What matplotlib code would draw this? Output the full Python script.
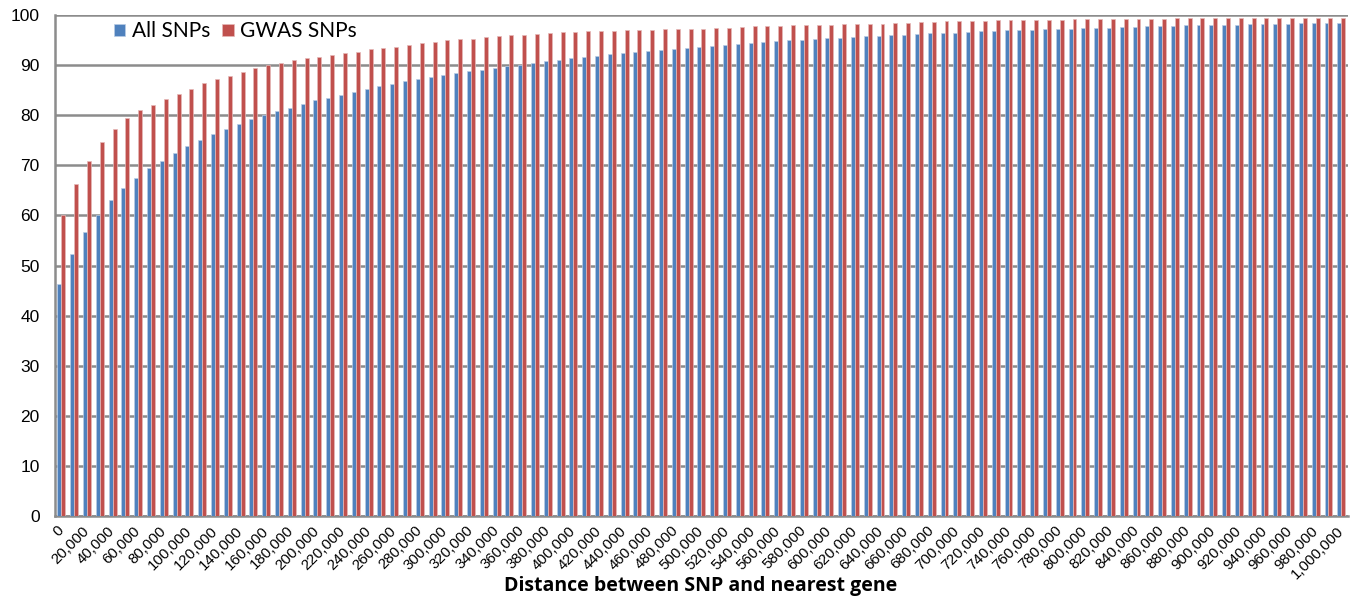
import numpy as np
import matplotlib
matplotlib.use("Agg")
import matplotlib.pyplot as plt

# -------------------
# Data
# -------------------

distances = list(range(0, 1000001, 10000))

all_snps = [46.4, 52.3, 56.7, 60.1, 63.0, 65.4, 67.4, 69.4, 70.9, 72.4,
            73.9, 75.1, 76.2, 77.3, 78.3, 79.2, 80.1, 80.9, 81.5, 82.3,
            83.0, 83.5, 84.1, 84.7, 85.2, 85.8, 86.2, 86.8, 87.2, 87.7,
            88.0, 88.5, 88.8, 89.1, 89.5, 89.9, 90.1, 90.5, 90.8, 91.1,
            91.4, 91.6, 91.9, 92.2, 92.4, 92.7, 92.9, 93.1, 93.3, 93.5,
            93.7, 93.9, 94.1, 94.3, 94.5, 94.6, 94.8, 95.0, 95.1, 95.2,
            95.4, 95.5, 95.7, 95.8, 95.9, 96.0, 96.1, 96.3, 96.5, 96.5,
            96.5, 96.7, 96.8, 96.9, 97.0, 97.0, 97.1, 97.2, 97.3, 97.3,
            97.5, 97.5, 97.5, 97.7, 97.7, 97.8, 97.8, 97.9, 98.0, 98.0,
            98.1, 98.1, 98.1, 98.2, 98.2, 98.3, 98.3, 98.5, 98.5, 98.5,
            98.5]

gwas_snps = [60.0, 66.2, 70.8, 74.6, 77.3, 79.4, 81.0, 82.0, 83.3, 84.2,
             85.3, 86.4, 87.2, 87.8, 88.7, 89.4, 90.0, 90.4, 91.0, 91.4,
             91.7, 92.0, 92.5, 92.7, 93.2, 93.5, 93.7, 94.1, 94.5, 94.6,
             95.0, 95.2, 95.3, 95.7, 95.8, 96.0, 96.0, 96.2, 96.5, 96.7,
             96.7, 96.8, 96.9, 96.9, 97.0, 97.1, 97.1, 97.2, 97.3, 97.3,
             97.3, 97.5, 97.5, 97.7, 97.8, 97.8, 97.9, 98.0, 98.0, 98.1,
             98.1, 98.2, 98.3, 98.3, 98.3, 98.5, 98.5, 98.7, 98.7, 98.8,
             98.8, 98.8, 98.8, 99.0, 99.0, 99.0, 99.0, 99.1, 99.1, 99.2,
             99.2, 99.3, 99.3, 99.3, 99.3, 99.3, 99.3, 99.5, 99.5, 99.5,
             99.5, 99.5, 99.5, 99.5, 99.5, 99.5, 99.5, 99.5, 99.5, 99.5,
             99.5]

tick_labels = ["{:,}".format(d) for d in distances[::2]]

BLUE = "#4F81BD"
RED = "#C0504D"
GRID = "#8C8C8C"

# -------------
# Drawing chart
# -------------

fig = plt.figure(figsize=(13.55, 5.96), dpi=100)
ax = fig.add_axes([0.0406, 0.1342, 0.954, 0.8406])

x = np.arange(len(distances))
w = 0.31
ax.bar(x - w / 2, all_snps, w, color=BLUE, edgecolor="#B9CDE5",
       linewidth=0.5, label="All SNPs", zorder=3)
ax.bar(x + w / 2, gwas_snps, w, color=RED, edgecolor="#E6B9B8",
       linewidth=0.5, label="GWAS SNPs", zorder=3)

ax.set_xlim(-0.5, len(distances) - 0.5)
ax.set_ylim(0, 100)
ax.set_yticks(range(0, 101, 10))
ax.set_yticklabels([str(v) for v in range(0, 101, 10)],
                   family="Liberation Sans", fontsize=12.5)
ax.tick_params(axis="y", length=0, pad=11)
ax.yaxis.grid(True, color=GRID, linewidth=1.8, zorder=0)

ax.set_xticks(x[::2])
ax.set_xticklabels(tick_labels, rotation=45, ha="right", va="center",
                   rotation_mode="anchor", fontsize=10.8,
                   family="Liberation Sans")
ax.tick_params(axis="x", length=0, pad=9)

for side in ["top", "right"]:
    ax.spines[side].set_visible(False)
for side in ["left", "bottom"]:
    ax.spines[side].set_color(GRID)
    ax.spines[side].set_linewidth(1.8)

fig.text(0.517, 1 - 586 / 596, "Distance between SNP and nearest gene",
         fontsize=14, fontweight="bold", family="Open Sans",
         ha="center", va="center")

ax.legend(loc="upper left", bbox_to_anchor=(0.031, 1.025), ncol=2,
          frameon=False, prop={"family": "Lato", "size": 15},
          handlelength=0.55, handleheight=0.55, handletextpad=0.3,
          columnspacing=0.6)

fig.savefig("out.png", dpi=100)
